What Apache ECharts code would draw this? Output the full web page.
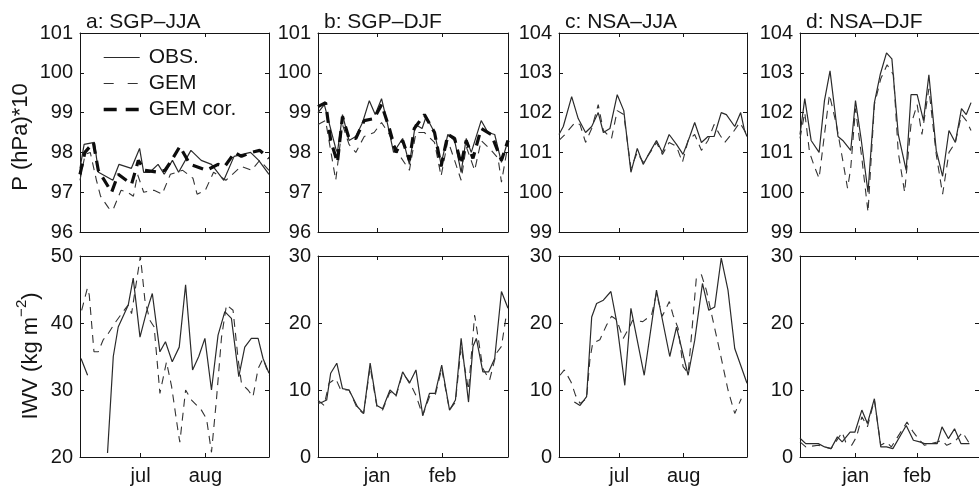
<!DOCTYPE html>
<html><head><meta charset="utf-8">
<script src="https://cdn.jsdelivr.net/npm/echarts@6/dist/echarts.min.js"></script>
<style>html,body{margin:0;padding:0;background:#fff}#c{width:979px;height:487px}</style>
</head><body><div id="c"></div>
<script>
// ---------- DATA (x = day of season, y = value) ----------
const panelTitles = ['a: SGP\u2013JJA','b: SGP\u2013DJF','c: NSA\u2013JJA','d: NSA\u2013DJF'];
const seriesNames = ['OBS.','GEM','GEM cor.'];
const jjaTicks = [29.5, 61];   const jjaLabels = ['jul','aug'];
const djfTicks = [28, 59];     const djfLabels = ['jan','feb'];
const yNameTop = 'P (hPa)*10';
const yNameBottomMain = 'IWV (kg m';
const yNameBottomSup = '\u22122';

// Pressure, panel a (SGP-JJA)
const aP_obs = [[0,97.6],[2,98.2],[7,98.25],[9,97.5],[16,97.3],[19,97.7],[25,97.6],[29,98.1],[31,97.5],[34,97.5],[38,97.7],[41,97.45],[45,97.8],[48,97.5],[54,98.05],[59,97.8],[64,97.7],[70,97.3],[75,97.9],[79,97.95],[83,98.0],[87,97.8],[92,97.45]];
const aP_gem = [[0,97.3],[2.5,97.95],[5,98.0],[8,97.3],[10,96.9],[14,96.6],[16,96.55],[20,97.05],[23,97.0],[26,96.9],[28,97.45],[31,97.0],[36,97.05],[40,96.95],[44,97.45],[50,97.55],[55,97.35],[57,96.95],[61,97.05],[65,97.5],[71,97.3],[78.5,97.65],[83.5,97.55],[87.5,97.8],[92,97.55]];
const aP_cor = [[0,97.45],[2.4,98.0],[6.5,98.25],[8.9,97.55],[15.4,97.0],[18.6,97.45],[25.1,97.2],[28.4,97.8],[31.6,97.55],[38.1,97.5],[41.3,97.55],[44.6,97.8],[48.6,98.15],[53.5,97.7],[61.6,97.55],[67.2,97.7],[70.5,97.65],[75.3,98.0],[78.6,97.9],[83.4,98.0],[87.5,98.05],[92,97.85]];
// Pressure, panel b (SGP-DJF)
const bP_obs = [[0,99.0],[3,99.2],[8.4,98.1],[9.2,98.0],[11.6,98.95],[14.7,98.3],[17.9,98.4],[21.1,98.75],[24.3,99.3],[27.1,98.95],[30.1,99.35],[33,98.7],[35.8,98.0],[40.1,98.35],[43.3,97.7],[46.1,98.7],[49.3,98.6],[51.2,98.9],[55.2,98.5],[58.3,97.7],[61.5,98.45],[64.7,98.3],[67.8,97.5],[70.2,98.35],[72.6,98.0],[77.3,98.8],[80.5,98.5],[83.7,98.45],[86.9,97.75],[90,98.3]];
const bP_gem = [[0,98.7],[3.6,98.8],[8.4,97.3],[11.6,98.7],[14.7,98.2],[17.9,98.0],[21.9,98.4],[26.6,98.5],[30.1,98.75],[33.8,98.45],[37.7,98.0],[43.3,97.55],[46.4,98.5],[50.4,98.5],[55.2,98.25],[58.3,97.4],[61.5,98.3],[64.7,97.8],[67.8,97.3],[70.2,98.15],[74.2,97.55],[77.3,98.3],[82.1,98.05],[85.3,97.85],[86.9,97.25],[90,98.2]];
const bP_cor = [[0,99.15],[3.6,99.25],[6,98.3],[9.2,97.75],[11.6,98.9],[14.7,98.35],[17.9,98.35],[21.9,98.8],[26.6,98.85],[30.1,99.2],[33.8,98.6],[36.9,98.0],[40.1,98.3],[43.3,97.8],[45.6,98.6],[50.4,98.95],[55.2,98.5],[58.3,97.65],[61.5,98.45],[64.7,98.35],[67.8,97.7],[70.2,98.3],[73.4,97.85],[77.3,98.6],[82.1,98.45],[86.9,97.8],[90,98.3]];
// Pressure, panel c (NSA-JJA)
const cP_obs = [[0,101.45],[2.1,101.65],[6.2,102.4],[9.4,101.85],[13,101.5],[16,101.65],[19.2,102.0],[21.7,101.5],[24.9,101.6],[28.5,102.45],[31.7,102.05],[35.2,100.5],[38.3,101.1],[41.2,100.7],[44.4,101.0],[47.7,101.3],[50.6,101.0],[53.9,101.45],[57.5,101.2],[60.7,100.95],[64,101.4],[66.4,101.75],[69.7,101.25],[72.9,101.4],[75.9,101.4],[79.4,102.0],[81.9,101.95],[86,101.65],[88.9,102.0],[90.8,101.55],[92,101.4]];
const cP_gem = [[0,101.3],[2.9,101.45],[7.8,101.75],[10.3,101.7],[13,101.25],[16,101.6],[19.2,102.2],[21.7,101.55],[25.7,101.35],[28.5,102.05],[31.7,101.95],[35.2,100.6],[38.3,101.0],[41.2,100.75],[45.3,101.05],[47.7,101.25],[50.6,100.95],[53.9,101.25],[57.5,101.15],[60.4,100.75],[63.2,101.3],[66.4,101.45],[69.7,101.05],[72.9,101.3],[75.9,101.7],[78.6,101.45],[81.1,101.25],[85.1,101.5],[88.4,101.75],[92,101.45]];
// Pressure, panel d (NSA-DJF)
const dP_obs = [[0,101.45],[2.4,102.35],[5.6,101.3],[9.6,101.0],[12.3,102.3],[15.1,103.05],[19.1,101.4],[21.5,101.3],[25.5,101.05],[27.9,102.3],[30.7,101.35],[34.2,100.0],[37.4,102.25],[40.3,102.95],[43.5,103.5],[46.2,103.35],[49.4,101.45],[53.4,100.55],[55.8,102.45],[58.9,102.45],[62.1,101.8],[64.8,102.95],[68.5,101.05],[71.7,100.4],[74.9,101.55],[78.1,101.25],[81.2,102.1],[83.6,101.95],[86,102.25]];
const dP_gem = [[0,101.35],[2.4,102.0],[4.8,101.0],[7.2,100.65],[9.6,100.35],[12.3,101.45],[14.8,102.45],[18.3,101.7],[21.5,100.8],[23.9,100.1],[25.5,100.6],[27.9,102.1],[31.1,100.85],[34.2,99.5],[37.4,102.2],[40.6,102.85],[43.8,103.2],[47,102.95],[49.4,101.0],[52.6,100.0],[55.8,101.7],[58.9,102.2],[61.3,101.45],[64.8,102.6],[68.5,100.95],[71.7,99.95],[74.9,101.0],[78.1,101.25],[81.2,101.95],[83.6,101.8],[86,101.55]];

// IWV, panel a
const aW_obs = [[0.5,34.7],[3.7,32.2],[8,'-'],[13.4,20.6],[16.2,35.0],[18.6,39.4],[23.5,42.7],[25.9,46.7],[29.2,37.9],[32.4,41.7],[35.2,44.4],[38.9,35.7],[41.6,37.2],[44.9,34.2],[48.3,36.4],[51.4,45.7],[54.8,33.0],[57.8,35.0],[60.8,37.7],[64,30.0],[67.2,38.2],[70.5,41.7],[73.7,40.7],[77.3,32.0],[80.2,36.4],[83.4,37.7],[86.7,37.7],[89.1,34.7],[92,32.5]];
const aW_gem = [[0.8,41.9],[3.6,45.2],[4.5,44.2],[6.8,35.7],[8.9,35.7],[11.3,37.5],[13.3,38.2],[17,40.0],[21,41.7],[23.5,42.7],[25.1,41.4],[29.4,50.0],[31.6,43.4],[34,40.4],[36.1,39.4],[38.9,29.5],[42.1,34.2],[44.6,30.5],[47.8,23.7],[48.6,22.2],[51.4,30.0],[54.3,28.5],[59.1,27.0],[61.6,25.7],[64,20.7],[66.4,28.5],[68.9,37.9],[71.3,42.7],[74.5,41.9],[77,34.5],[78.6,31.0],[81.8,30.0],[84.2,29.0],[86.7,33.2],[89.1,34.7],[92,32.2]];
// IWV, panel b
const bW_obs = [[0,8.0],[2.1,8.2],[4.1,8.5],[6,12.5],[8.9,14.0],[11.6,10.2],[14.7,10.0],[18.7,7.5],[21.6,6.5],[24.7,14.0],[27.9,7.7],[30.6,7.2],[34.1,10.0],[36.9,9.2],[40.1,12.7],[43.3,11.0],[46.4,13.0],[49.6,6.2],[52.8,9.5],[55.5,9.5],[58.6,13.7],[62.3,7.0],[65.1,8.5],[67.8,17.7],[71.3,8.2],[73.4,16.5],[75,17.7],[78.1,12.7],[80.8,12.7],[83.7,14.7],[86.9,24.7],[90,22.2]];
const bW_gem = [[0,8.5],[2.9,7.7],[5.2,11.0],[8.4,11.7],[10.8,10.0],[14.7,10.0],[18.7,7.2],[21.6,6.5],[24.7,13.5],[27.9,7.5],[30.6,7.0],[34.1,9.7],[36.9,9.0],[40.1,12.5],[43.3,11.2],[46.4,9.2],[49.6,6.2],[52.8,9.0],[55.5,9.2],[58.6,13.2],[62.3,7.0],[65.1,8.2],[67.8,16.5],[71.3,10.0],[74.2,21.2],[78.1,13.2],[81.3,11.5],[84.5,15.5],[86.9,16.5],[89.2,21.2],[90,21.0]];
// IWV, panel c
const cW_obs = [[7.5,8.2],[10.3,7.7],[13.5,9.0],[16,20.9],[18.4,22.9],[21.7,23.4],[25.4,24.7],[28.2,20.2],[32.2,10.7],[35.2,22.2],[41.7,12.2],[47.7,24.9],[54.2,15.0],[57.5,19.4],[63.2,12.2],[66.4,17.4],[70.2,25.9],[73.3,21.9],[76.2,22.4],[79.4,29.7],[82.7,24.9],[86,16.2],[88.9,13.7],[92,11.0]];
const cW_gem = [[0.5,12.2],[2.6,13.0],[5.9,11.2],[8.1,9.2],[10.3,8.0],[13.5,8.7],[15.1,14.5],[16.5,17.0],[20,17.5],[23.3,19.7],[25.7,21.0],[28.2,20.5],[31.4,17.7],[34.7,19.5],[36,20.4],[41,20.2],[45.3,21.2],[47.7,24.4],[50.5,21.0],[54,23.2],[55.8,21.2],[58.3,19.2],[60.7,13.5],[63.2,12.5],[64.8,18.0],[67.2,26.7],[69.7,27.2],[72.1,24.9],[74.6,21.4],[78.6,15.9],[82.7,10.0],[86,6.5],[89.2,8.7]];
// IWV, panel d
const dW_obs = [[0,2.8],[2.9,2.0],[9.2,2.0],[12.4,1.5],[15.6,1.25],[18.8,3.0],[21.2,2.25],[25.2,3.7],[27.6,3.7],[31.1,7.0],[33.9,5.0],[37.4,8.7],[40.6,1.5],[43.5,1.5],[46.7,1.25],[53.4,4.7],[57,2.5],[60.2,2.25],[62.6,2.0],[69,2.0],[71.4,4.5],[74.6,2.75],[77.7,4.2],[80.9,2.0],[85.2,2.0]];
const dW_gem = [[0,2.25],[2.9,1.5],[9.2,1.75],[15.6,1.25],[18,2.25],[21.2,3.7],[23,2.2],[26,1.75],[28.4,3.0],[31.1,6.0],[33.9,4.5],[37.4,8.5],[40.6,1.75],[43.5,2.25],[45.9,1.5],[53.8,5.2],[57,3.7],[60.2,2.5],[62.6,1.75],[69,2.25],[71.4,2.5],[73.8,1.75],[77.7,2.25],[81.7,3.7],[85.2,2.0]];

// y ranges
const pRangeSGP = [96, 101], pRangeNSA = [99, 104];
const wRangeA = [20, 50], wRangeOther = [0, 30];

// ---------- LAYOUT / STYLE ----------
const FONT = '"Liberation Sans", Arial, Helvetica, sans-serif';
const INK = '#151515';
const colLeft = [80, 318, 559, 800];
const colWidth = [189, 190, 188, 189];
const rowTop = [33, 256];
const rowHeight = [199, 201];

const panels = [
  {r:0,c:0, y:pRangeSGP, iv:1, season:'jja', s:[aP_obs,aP_gem,aP_cor]},
  {r:0,c:1, y:pRangeSGP, iv:1, season:'djf', s:[bP_obs,bP_gem,bP_cor]},
  {r:0,c:2, y:pRangeNSA, iv:1, season:'jja', s:[cP_obs,cP_gem]},
  {r:0,c:3, y:pRangeNSA, iv:1, season:'djf', s:[dP_obs,dP_gem]},
  {r:1,c:0, y:wRangeA, iv:10, season:'jja', s:[aW_obs,aW_gem]},
  {r:1,c:1, y:wRangeOther, iv:10, season:'djf', s:[bW_obs,bW_gem]},
  {r:1,c:2, y:wRangeOther, iv:10, season:'jja', s:[cW_obs,cW_gem]},
  {r:1,c:3, y:wRangeOther, iv:10, season:'djf', s:[dW_obs,dW_gem]},
];

const lineStyles = [
  {color:'#2a2a2a', width:1.2, type:'solid'},
  {color:'#333', width:1.1, type:[8,6]},
  {color:'#0d0d0d', width:3.2, type:[11,7]}
];
const legendLineStyles = [
  {color:'#2a2a2a', width:1.2, type:'solid'},
  {color:'#333', width:1.1, type:[10,14]},
  {color:'#0d0d0d', width:3.4, type:[13,9]}
];

const grid=[], xAxis=[], yAxis=[], series=[];
const axLine = {show:true, onZero:false, lineStyle:{color:INK, width:1}};
panels.forEach((p,i)=>{
  grid.push({left:colLeft[p.c], top:rowTop[p.r], width:colWidth[p.c], height:rowHeight[p.r], containLabel:false});
  const ticks = p.season==='jja'?jjaTicks:djfTicks;
  const labs = p.season==='jja'?jjaLabels:djfLabels;
  const xmax = p.season==='jja'?92:90;
  const tick = {show:true, inside:true, length:4, customValues:ticks, lineStyle:{color:INK}};
  xAxis.push({type:'value', gridIndex:i, position:'bottom', min:0, max:xmax,
    axisLine:axLine, axisTick:tick, splitLine:{show:false},
    axisLabel:{show:p.r===1, customValues:ticks, margin:9, fontSize:20, fontFamily:FONT, color:INK,
      formatter:v=>{const k=ticks.indexOf(v);return k>=0?labs[k]:'';}}});
  xAxis.push({type:'value', gridIndex:i, position:'top', min:0, max:xmax,
    axisLine:axLine, axisTick:tick, splitLine:{show:false}, axisLabel:{show:false}});
  const ytick = {show:true, inside:true, length:4, lineStyle:{color:INK}};
  yAxis.push({type:'value', gridIndex:i, position:'left', min:p.y[0], max:p.y[1], interval:p.iv,
    axisLine:axLine, axisTick:ytick, splitLine:{show:false},
    axisLabel:{margin:7, fontSize:20, fontFamily:FONT, color:INK}});
  yAxis.push({type:'value', gridIndex:i, position:'right', min:p.y[0], max:p.y[1], interval:p.iv,
    axisLine:axLine, axisTick:ytick, splitLine:{show:false}, axisLabel:{show:false}});
  p.s.forEach((d,k)=>{
    series.push({type:'line', name:seriesNames[k], xAxisIndex:2*i, yAxisIndex:2*i,
      data:d, symbol:'none', showSymbol:false, connectNulls:false, clip:true,
      lineStyle:lineStyles[k], itemStyle:{color:lineStyles[k].color}, z:2+k, animation:false});
  });
});

const titles = panelTitles.map((t,c)=>({text:t, left:colLeft[c]+6, top:12, padding:0,
  textStyle:{fontSize:21, fontWeight:'normal', fontFamily:FONT, color:INK}}));

const option = {
  backgroundColor:'#fff',
  animation:false,
  title:titles,
  grid, xAxis, yAxis, series,
  legend:{data:seriesNames.map((n,k)=>({name:n, lineStyle:legendLineStyles[k]})),
    orient:'vertical', left:102, top:47, padding:0,
    itemWidth:36, itemHeight:14, itemGap:5, selectedMode:false,
    itemStyle:{color:'rgba(0,0,0,0)', borderColor:'rgba(0,0,0,0)', borderWidth:0, opacity:0},
    textStyle:{fontSize:21, fontFamily:FONT, color:INK, padding:[0,0,0,4]}},
  graphic:[
    {type:'text', x:21, y:137, rotation:Math.PI/2,
      style:{text:yNameTop, fontSize:22, fontFamily:FONT, fill:INK, align:'center', verticalAlign:'middle'}},
    {type:'text', x:28, y:356, rotation:Math.PI/2,
      style:{text:'{n|'+yNameBottomMain+'}{s|'+yNameBottomSup+'}{n|)}', align:'center', verticalAlign:'middle',
        rich:{n:{fontSize:22, fontFamily:FONT, fill:INK, color:INK, lineHeight:28, verticalAlign:'bottom'},
              s:{fontSize:15, fontFamily:FONT, fill:INK, color:INK, lineHeight:28, verticalAlign:'top'}}}}
  ]
};
const chart = echarts.init(document.getElementById('c'), null, {renderer:'canvas'});
chart.setOption(option);
</script></body></html>
